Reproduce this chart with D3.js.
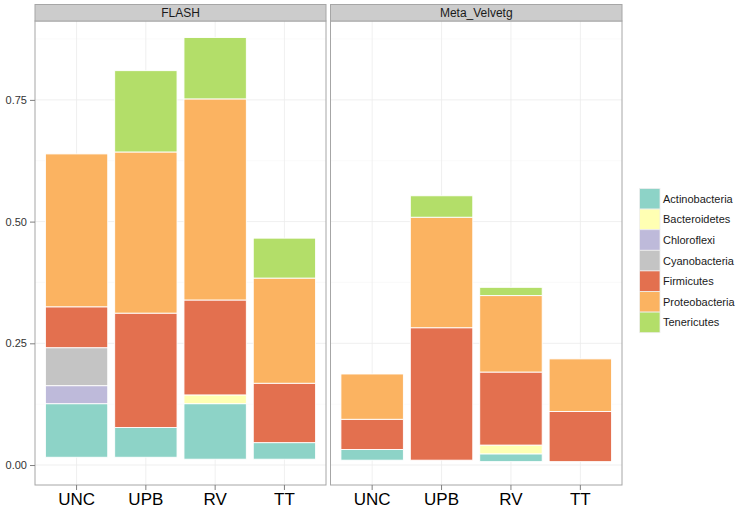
<!DOCTYPE html>
<html>
<head>
<meta charset="utf-8">
<script src="https://cdn.jsdelivr.net/npm/d3@7"></script>
<style>
  body { margin: 0; background: #fff; }
  text { font-family: "Liberation Sans", Arial, sans-serif; }
</style>
</head>
<body>
<svg id="chart" width="741" height="512"></svg>
<script>
const categories = ["UNC", "UPB", "RV", "TT"];
const facets = ["FLASH", "Meta_Velvetg"];
const phyla = ["Actinobacteria", "Bacteroidetes", "Chloroflexi", "Cyanobacteria",
  "Firmicutes", "Proteobacteria", "Tenericutes"];
const colors = ["#8dd3c7", "#ffffb3", "#bebada", "#c4c4c4", "#e3704f", "#fbb361", "#b3de69"];
const yTicks = [0, 0.25, 0.5, 0.75];

// where each stack starts (per category)
const flashBase = [0.016, 0.016, 0.012, 0.012];
const metaBase = [0.010, 0.010, 0.007, 0.007];

// segment heights per phylum, in category order UNC, UPB, RV, TT
const flashValues = [
  [0.110, 0.061, 0.114, 0.034], // Actinobacteria
  [0, 0, 0.018, 0],             // Bacteroidetes
  [0.037, 0, 0, 0],             // Chloroflexi
  [0.078, 0, 0, 0],             // Cyanobacteria
  [0.084, 0.235, 0.195, 0.122], // Firmicutes
  [0.314, 0.331, 0.413, 0.216], // Proteobacteria
  [0, 0.167, 0.126, 0.082]      // Tenericutes
];
const metaValues = [
  [0.022, 0, 0.016, 0],
  [0, 0, 0.018, 0],
  [0, 0, 0, 0],
  [0, 0, 0, 0],
  [0.062, 0.272, 0.150, 0.103],
  [0.093, 0.227, 0.157, 0.108],
  [0, 0.044, 0.017, 0]
];

const svg = d3.select("#chart");
const panels = [
  { name: facets[0], x0: 35, x1: 326, base: flashBase, values: flashValues },
  { name: facets[1], x0: 330.5, x1: 622, base: metaBase, values: metaValues }
];
const plotTop = 21, plotBottom = 485, stripTop = 4.5;

const yScale = d3.scaleLinear().domain([-0.041, 0.912]).range([plotBottom, plotTop]);
const color = d3.scaleOrdinal().domain(phyla).range(colors);

panels.forEach((p, pi) => {
  const xScale = d3.scaleBand().domain(categories).range([p.x0, p.x1])
    .paddingInner(0.1).paddingOuter(0.15);
  const g = svg.append("g");

  g.append("rect").attr("x", p.x0).attr("y", plotTop)
    .attr("width", p.x1 - p.x0).attr("height", plotBottom - plotTop).attr("fill", "#fff");

  // minor grid
  [0.125, 0.375, 0.625, 0.875].forEach(v => {
    g.append("line").attr("x1", p.x0).attr("x2", p.x1)
      .attr("y1", yScale(v)).attr("y2", yScale(v))
      .attr("stroke", "#f7f7f7").attr("stroke-width", 0.6);
  });
  // major grid
  yTicks.forEach(v => {
    g.append("line").attr("x1", p.x0).attr("x2", p.x1)
      .attr("y1", yScale(v)).attr("y2", yScale(v))
      .attr("stroke", "#ebebeb").attr("stroke-width", 0.8);
  });
  categories.forEach(c => {
    const cx = xScale(c) + xScale.bandwidth() / 2;
    g.append("line").attr("x1", cx).attr("x2", cx).attr("y1", plotTop).attr("y2", plotBottom)
      .attr("stroke", "#ebebeb").attr("stroke-width", 0.8);
  });

  // stacked bars
  const rows = categories.map((c, ci) => {
    const row = { cat: c };
    phyla.forEach((ph, k) => { row[ph] = p.values[k][ci]; });
    return row;
  });
  const series = d3.stack().keys(phyla)(rows);
  series.forEach(s => {
    g.append("g").selectAll("rect")
      .data(s.filter(d => d[1] - d[0] > 0))
      .join("rect")
      .attr("x", d => xScale(d.data.cat))
      .attr("width", xScale.bandwidth())
      .attr("y", d => yScale(d[1] + p.base[categories.indexOf(d.data.cat)]))
      .attr("height", d => yScale(d[0]) - yScale(d[1]))
      .attr("fill", color(s.key))
      .attr("stroke", "#fff").attr("stroke-width", 0.9);
  });

  // panel border
  g.append("rect").attr("x", p.x0).attr("y", plotTop)
    .attr("width", p.x1 - p.x0).attr("height", plotBottom - plotTop)
    .attr("fill", "none").attr("stroke", "#a6a6a6").attr("stroke-width", 1);

  // strip
  g.append("rect").attr("x", p.x0).attr("y", stripTop)
    .attr("width", p.x1 - p.x0).attr("height", plotTop - stripTop)
    .attr("fill", "#cccccc").attr("stroke", "#a6a6a6").attr("stroke-width", 1);
  g.append("text").attr("x", (p.x0 + p.x1) / 2).attr("y", (stripTop + plotTop) / 2)
    .attr("dy", "0.36em").attr("text-anchor", "middle")
    .attr("font-size", 12).attr("fill", "#1a1a1a").text(p.name);

  // x axis
  const axisX = d3.axisBottom(xScale).tickSize(5).tickPadding(3);
  const ax = g.append("g").attr("transform", `translate(0,${plotBottom})`).call(axisX);
  ax.select(".domain").remove();
  ax.selectAll(".tick line").attr("stroke", "#7f7f7f");
  ax.selectAll(".tick text").attr("font-size", 17).attr("fill", "#000")
    .attr("font-family", "Liberation Sans, Arial, sans-serif");

  if (pi === 0) {
    const axisY = d3.axisLeft(yScale).tickValues(yTicks).tickFormat(d3.format(".2f"))
      .tickSize(5).tickPadding(3);
    const ay = g.append("g").attr("transform", `translate(${p.x0},0)`).call(axisY);
    ay.select(".domain").remove();
    ay.selectAll(".tick line").attr("stroke", "#7f7f7f");
    ay.selectAll(".tick text").attr("font-size", 11).attr("fill", "#333")
      .attr("font-family", "Liberation Sans, Arial, sans-serif");
  }
});

// legend
const legend = svg.append("g").attr("transform", "translate(639.5,188.5)");
const keyH = 20.6;
phyla.forEach((ph, i) => {
  legend.append("rect").attr("x", 0).attr("y", i * keyH)
    .attr("width", 20.5).attr("height", keyH)
    .attr("fill", color(ph)).attr("stroke", "#eeeeee").attr("stroke-width", 0.8);
  legend.append("text").attr("x", 23.5).attr("y", i * keyH + keyH / 2)
    .attr("dy", "0.36em").attr("font-size", 11).attr("fill", "#1a1a1a").text(ph);
});
</script>
</body>
</html>
